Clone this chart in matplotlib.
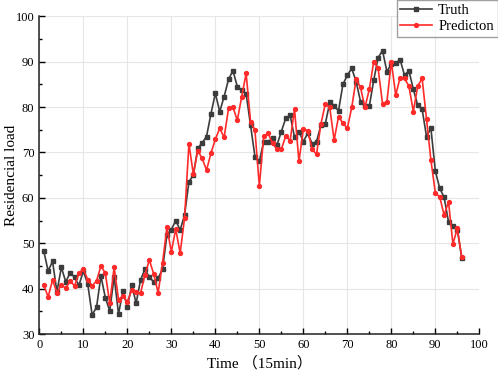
import matplotlib
matplotlib.use("Agg")
import matplotlib.pyplot as plt
from matplotlib.ticker import MultipleLocator

plt.rcParams['font.family'] = ['Liberation Serif', 'Noto Sans CJK SC']
plt.rcParams['mathtext.fontset'] = 'stix'

time = list(range(1, 97))
truth = [48.3, 43.9, 46.0, 39.3, 44.7, 41.5, 43.5, 42.5, 40.7, 43.9,
         41.0, 34.2, 35.9, 42.8, 38.0, 35.1, 42.6, 34.4, 39.5, 35.9,
         40.8, 36.8, 41.9, 44.3, 42.5, 41.5, 42.3, 44.3, 51.8, 53.0,
         55.0, 52.9, 56.2, 63.5, 65.0, 70.9, 72.1, 73.5, 78.5, 83.0,
         79.0, 82.3, 86.1, 88.0, 84.5, 83.7, 82.9, 76.0, 69.1, 68.0,
         72.4, 72.4, 73.1, 71.6, 74.6, 77.5, 78.2, 73.3, 74.6, 72.4,
         74.2, 71.9, 72.4, 76.0, 76.3, 81.0, 80.2, 79.2, 85.0, 87.0,
         88.5, 85.6, 81.2, 80.2, 80.2, 85.9, 90.9, 92.4, 87.8, 89.5,
         89.6, 90.4, 87.0, 88.0, 83.9, 80.4, 79.5, 73.5, 75.3, 65.9,
         62.1, 60.1, 54.7, 53.8, 53.0, 46.8]
prediction = [40.8, 38.2, 41.9, 39.1, 40.8, 40.1, 41.7, 40.6, 43.4, 44.3,
              42.0, 40.6, 41.7, 45.0, 43.4, 36.8, 44.7, 37.6, 38.4, 37.1,
              39.7, 39.3, 39.0, 43.0, 46.3, 43.2, 39.1, 45.7, 53.5, 48.1,
              53.1, 47.8, 55.5, 71.9, 65.2, 70.4, 68.7, 66.1, 69.8, 72.9,
              75.3, 73.3, 79.7, 79.9, 77.1, 82.3, 87.4, 76.8, 74.9, 62.6,
              73.6, 74.2, 72.0, 70.7, 70.7, 73.6, 72.6, 79.5, 68.0, 75.1,
              74.8, 70.7, 69.6, 76.3, 80.7, 79.9, 72.7, 77.9, 76.4, 75.3,
              79.9, 86.1, 84.3, 79.9, 83.9, 90.0, 88.5, 80.7, 81.2, 90.0,
              82.6, 86.5, 86.3, 84.6, 79.0, 84.6, 86.3, 77.3, 68.3, 61.1,
              60.2, 56.2, 59.1, 49.8, 53.3, 46.9]

fig = plt.figure(figsize=(4.98, 3.77), dpi=100)
ax = fig.add_axes([0.079, 0.114, 0.8835, 0.843])

ax.plot(time, truth, color='#3c3c3c', lw=1.2, marker='s', ms=2.8,
        label='Truth', zorder=3)
ax.plot(time, prediction, color='#ff2a2a', lw=1.2, marker='o', ms=2.8,
        label='Predicton', zorder=4)

ax.set_xlim(0, 100)
ax.set_ylim(30, 100)
ax.xaxis.set_major_locator(MultipleLocator(10))
ax.xaxis.set_minor_locator(MultipleLocator(5))
ax.yaxis.set_major_locator(MultipleLocator(10))
ax.yaxis.set_minor_locator(MultipleLocator(5))
ax.grid(True, which='major', color='#e6e6e6', lw=0.8)
ax.set_axisbelow(True)
for s in ['top', 'right']:
    ax.spines[s].set_visible(False)
for s in ['left', 'bottom']:
    ax.spines[s].set_linewidth(1.1)
    ax.spines[s].set_color('#222222')
ax.tick_params(which='major', direction='in', length=4, width=1, labelsize=9)
ax.tick_params(which='minor', direction='in', length=2.5, width=1)

ax.set_xlabel('Time （15min）', fontsize=11, labelpad=4)
ax.set_ylabel('Residencial load', fontsize=11)
ax.yaxis.set_label_coords(-0.048, 0.5)

fig.legend(loc='upper right', bbox_to_anchor=(0.999, 0.999), fontsize=10.5,
           frameon=True, fancybox=False, edgecolor='#888888',
           handlelength=2.2, borderpad=0.25, labelspacing=0.2,
           handletextpad=0.4, borderaxespad=0)

fig.savefig('out.png', dpi=100)
